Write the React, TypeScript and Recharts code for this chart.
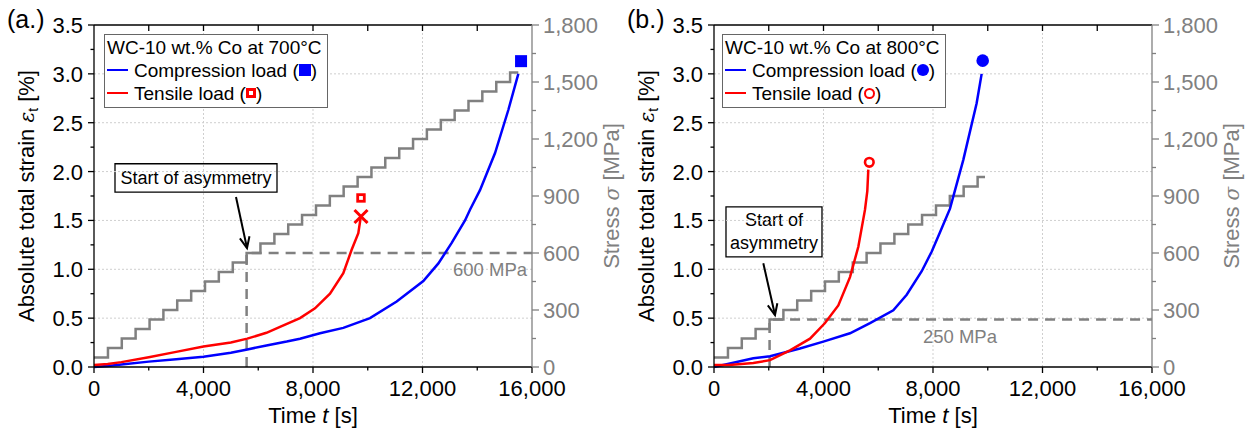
import React from "react";
import {
  ComposedChart,
  Line,
  Scatter,
  XAxis,
  YAxis,
  ReferenceLine,
  ReferenceArea,
  ReferenceDot,
  Legend,
} from "recharts";

const FONT = "Arial, 'Liberation Sans', Helvetica, sans-serif";
const GRAY = "#808080";
const BLUE = "#0000ff";
const RED = "#ff0000";

// axis ticks
const timeTicks = [0, 2000, 4000, 6000, 8000, 10000, 12000, 14000, 16000];
const timeGridTicks = [4000, 8000, 12000];
const strainTicks = [0, 0.25, 0.5, 0.75, 1, 1.25, 1.5, 1.75, 2, 2.25, 2.5, 2.75, 3, 3.25, 3.5];
const strainGridTicks = [0.5, 1, 1.5, 2, 2.5, 3];
const stressTicks = [0, 150, 300, 450, 600, 750, 900, 1050, 1200, 1350, 1500, 1650, 1800];
const strainMax = 3.5;

// (a.) 700 °C
const stepTimeA = [0, 510, 1015, 1520, 2030, 2535, 3040, 3550, 4055, 4560, 5070, 5575, 6080, 6590, 7095, 7600, 8110, 8615, 9120, 9630, 10135, 10640, 11150, 11655, 12160, 12670, 13175, 13680, 14185, 14695, 15200, 15500];
const stepStressA = [50, 100, 150, 200, 250, 300, 350, 400, 450, 500, 550, 600, 650, 700, 750, 800, 850, 900, 950, 1000, 1050, 1100, 1150, 1200, 1250, 1300, 1350, 1400, 1450, 1500, 1550, 1550];
const compTimeA = [0, 500, 1000, 2000, 3000, 4000, 5000, 5600, 6300, 7040, 7525, 8256, 9107, 10082, 11057, 12030, 12580, 13066, 13553, 13735, 14100, 14650, 15135, 15500];
const compStrainA = [0, 0.01, 0.025, 0.055, 0.08, 0.105, 0.145, 0.18, 0.22, 0.26, 0.29, 0.345, 0.4, 0.5, 0.67, 0.88, 1.06, 1.27, 1.5, 1.61, 1.81, 2.19, 2.63, 3.0];
const tensTimeA = [0, 500, 1000, 2000, 3000, 4000, 5000, 5600, 6300, 6795, 7525, 8073, 8621, 9107, 9412, 9655, 9753];
const tensStrainA = [0.02, 0.03, 0.05, 0.1, 0.155, 0.21, 0.25, 0.29, 0.35, 0.41, 0.5, 0.6, 0.75, 0.96, 1.2, 1.37, 1.55];
const compFailA = [15600, 3.13];
const tensFailA = [9753, 1.73];
const tensCrossA = [9753, 1.54];
const onsetTimeA = 5575;
const onsetStressA = 600;

// (b.) 800 °C
const stepTimeB = [0, 510, 1015, 1520, 2030, 2535, 3040, 3550, 4055, 4560, 5070, 5575, 6080, 6590, 7095, 7600, 8110, 8615, 9120, 9630, 9900];
const stepStressB = [50, 100, 150, 200, 250, 300, 350, 400, 450, 500, 550, 600, 650, 700, 750, 800, 850, 900, 950, 1000, 1000];
const compTimeB = [0, 500, 1437, 2046, 3141, 3993, 4968, 5699, 6550, 7039, 7588, 7950, 8256, 8621, 9107, 9594, 9777];
const compStrainB = [0, 0.03, 0.09, 0.11, 0.19, 0.26, 0.345, 0.45, 0.58, 0.74, 0.98, 1.18, 1.38, 1.62, 2.12, 2.7, 3.0];
const tensTimeB = [0, 558, 1437, 2046, 2776, 3507, 4055, 4541, 4968, 5272, 5516, 5600, 5637];
const tensStrainB = [0.02, 0.02, 0.04, 0.07, 0.17, 0.29, 0.45, 0.63, 0.92, 1.23, 1.61, 1.8, 2.02];
const compFailB = [9815, 3.135];
const tensFailB = [5673, 2.095];
const onsetTimeB = 2030;
const onsetStressB = 250;

const zip = (ts: number[], vs: number[]) => ts.map((t, i) => ({ t, v: vs[i] }));

const BottomTick = (p: any) => {
  const v = p.payload.value;
  const major = v % 4000 === 0;
  return (
    <g>
      <line x1={p.x} x2={p.x} y1={p.y} y2={p.y + (major ? 6 : 3.5)} stroke="#000" strokeWidth={1.3} />
      {major && (
        <text x={p.x} y={p.y + 29} textAnchor="middle" fontSize={22} fontFamily={FONT} fill="#000">
          {v.toLocaleString("en-US")}
        </text>
      )}
    </g>
  );
};

const LeftTick = (p: any) => {
  const v = p.payload.value;
  const major = Math.abs(v * 2 - Math.round(v * 2)) < 1e-6;
  return (
    <g>
      <line x1={p.x - (major ? 6 : 3.5)} x2={p.x} y1={p.y} y2={p.y} stroke="#000" strokeWidth={1.3} />
      {major && (
        <text x={p.x - 11} y={p.y + 8} textAnchor="end" fontSize={22} fontFamily={FONT} fill="#000">
          {v.toFixed(1)}
        </text>
      )}
    </g>
  );
};

const RightTick = (p: any) => {
  const v = p.payload.value;
  const major = v % 300 === 0;
  return (
    <g>
      <line x1={p.x} x2={p.x + (major ? 7 : 4)} y1={p.y} y2={p.y} stroke={GRAY} strokeWidth={1.3} />
      {major && (
        <text x={p.x + 11} y={p.y + 8} textAnchor="start" fontSize={22} fontFamily={FONT} fill={GRAY}>
          {v.toLocaleString("en-US")}
        </text>
      )}
    </g>
  );
};

// inward tick marks hanging from the top frame line
const TopTickDot = (p: any) => {
  const t = p.payload.t;
  if (t === 0 || t === 16000) return <g key={p.index} />;
  return <line key={p.index} x1={p.cx} x2={p.cx} y1={p.cy} y2={p.cy + 6} stroke="#000" strokeWidth={1.3} />;
};

const TimeTitle = (p: any) => {
  const vb = p.viewBox;
  return (
    <text x={vb.x + vb.width / 2} y={vb.y + 56} textAnchor="middle" fontSize={22} fontFamily={FONT} fill="#000">
      Time <tspan fontStyle="italic">t</tspan> [s]
    </text>
  );
};

const StrainTitle = (p: any) => {
  const vb = p.viewBox;
  const x = vb.x;
  const y = vb.y + vb.height / 2;
  return (
    <text x={x} y={y} transform={`rotate(-90 ${x} ${y})`} textAnchor="middle" fontSize={22} fontFamily={FONT} fill="#000">
      Absolute total strain <tspan fontStyle="italic" fontFamily="'DejaVu Serif', serif" fontSize={20}>ε</tspan>
      <tspan fontSize={14} dy={4}>t</tspan>
      <tspan dy={-4}> [%]</tspan>
    </text>
  );
};

const StressTitle = (p: any) => {
  const vb = p.viewBox;
  const x = vb.x + 87;
  const y = vb.y + vb.height / 2;
  return (
    <text x={x} y={y} transform={`rotate(-90 ${x} ${y})`} textAnchor="middle" fontSize={22} fontFamily={FONT} fill={GRAY}>
      Stress <tspan fontStyle="italic" fontFamily="'DejaVu Serif', serif" fontSize={20}>σ</tspan> [MPa]
    </text>
  );
};

const ArrowShape = (p: any) => {
  const { x1, y1, x2, y2 } = p;
  const a = Math.atan2(y2 - y1, x2 - x1);
  const L = 12;
  const s = 0.42;
  return (
    <g stroke="#000" strokeWidth={2} fill="none">
      <line x1={x1} y1={y1} x2={x2} y2={y2} />
      <polyline
        points={`${x2 - L * Math.cos(a - s)},${y2 - L * Math.sin(a - s)} ${x2},${y2} ${x2 - L * Math.cos(a + s)},${y2 - L * Math.sin(a + s)}`}
      />
    </g>
  );
};

const boxText = (lines: string[]) => (p: any) => {
  const vb = p.viewBox;
  const cx = vb.x + vb.width / 2;
  const cy = vb.y + vb.height / 2;
  const lh = 23;
  const y0 = cy - ((lines.length - 1) * lh) / 2 + 6;
  return (
    <text x={cx} textAnchor="middle" fontSize={18} fontFamily={FONT} fill="#000">
      {lines.map((l, i) => (
        <tspan key={i} x={cx} y={y0 + i * lh}>
          {l}
        </tspan>
      ))}
    </text>
  );
};

const mpaText = (value: string) => (p: any) => (
  <text x={p.viewBox.x} y={p.viewBox.y + 6} textAnchor="middle" fontSize={18.5} fontFamily={FONT} fill={GRAY}>
    {value}
  </text>
);

const FilledSquare = (p: any) => <rect x={p.cx - 6} y={p.cy - 6} width={12} height={12} fill={BLUE} />;
const OpenSquare = (p: any) => (
  <rect x={p.cx - 3.3} y={p.cy - 3.3} width={6.6} height={6.6} fill="none" stroke={RED} strokeWidth={2.8} />
);
const CrossMark = (p: any) => (
  <g stroke={RED} strokeWidth={3}>
    <line x1={p.cx - 6.5} y1={p.cy - 6.5} x2={p.cx + 6.5} y2={p.cy + 6.5} />
    <line x1={p.cx - 6.5} y1={p.cy + 6.5} x2={p.cx + 6.5} y2={p.cy - 6.5} />
  </g>
);
const FilledCircle = (p: any) => <circle cx={p.cx} cy={p.cy} r={6.3} fill={BLUE} />;
const OpenCircle = (p: any) => <circle cx={p.cx} cy={p.cy} r={4.3} fill="none" stroke={RED} strokeWidth={2.6} />;

const Swatch = ({ color }: { color: string }) => (
  <span style={{ display: "inline-block", width: 21, height: 2, background: color, verticalAlign: "middle", marginRight: 6, marginBottom: 3 }} />
);

const inlineMark = (kind: string) => {
  const base: React.CSSProperties = { display: "inline-block", verticalAlign: "middle", marginBottom: 3, boxSizing: "border-box" };
  if (kind === "fsq") return <span style={{ ...base, width: 12, height: 12, background: BLUE }} />;
  if (kind === "osq") return <span style={{ ...base, width: 10, height: 10, border: `3px solid ${RED}` }} />;
  if (kind === "fci") return <span style={{ ...base, width: 12, height: 12, background: BLUE, borderRadius: "50%" }} />;
  return <span style={{ ...base, width: 11, height: 11, border: `2.6px solid ${RED}`, borderRadius: "50%" }} />;
};

const LegendBox = ({ title, comp, tens }: { title: string; comp: string; tens: string }) => (
  <div
    style={{
      border: "1px solid #666",
      background: "#fff",
      padding: "1px 5px 2px 2px",
      fontFamily: FONT,
      fontSize: 19,
      lineHeight: "23px",
      color: "#000",
      whiteSpace: "nowrap",
      textAlign: "left",
    }}
  >
    <div>{title}</div>
    <div>
      <Swatch color={BLUE} />
      Compression load ({inlineMark(comp)})
    </div>
    <div>
      <Swatch color={RED} />
      Tensile load ({inlineMark(tens)})
    </div>
  </div>
);

interface PanelProps {
  width: number;
  stepT: number[];
  stepS: number[];
  compT: number[];
  compE: number[];
  tensT: number[];
  tensE: number[];
  onsetT: number;
  onsetS: number;
  mpaLabel: string;
  mpaPos: [number, number];
  box: [number, number, number, number];
  boxLines: string[];
  arrow: [number, number, number, number];
  legendTitle: string;
  legendLeft: number;
  compMark: string;
  tensMark: string;
  markers: { pt: number[]; shape: any }[];
}

const Panel: React.FC<PanelProps> = (p) => {
  const onsetLine = [
    { t: p.onsetT, v: 0 },
    { t: p.onsetT, v: p.onsetS },
    { t: 16000, v: p.onsetS },
  ];
  const topFrame = timeTicks.map((t) => ({ t, v: strainMax }));
  return (
    <ComposedChart width={p.width} height={428} margin={{ top: 25, right: p.width - 592, bottom: 31, left: 34 }}>
      <XAxis
        xAxisId="x"
        type="number"
        dataKey="t"
        domain={[0, 16000]}
        ticks={timeTicks}
        interval={0}
        height={30}
        tickSize={0}
        tickMargin={0}
        tickLine={false}
        tick={BottomTick}
        axisLine={{ stroke: "#000", strokeWidth: 1.3 }}
        label={TimeTitle}
      />
      <YAxis
        yAxisId="e"
        type="number"
        domain={[0, strainMax]}
        ticks={strainTicks}
        interval={0}
        width={60}
        tickSize={0}
        tickMargin={0}
        tickLine={false}
        tick={LeftTick}
        axisLine={{ stroke: "#000", strokeWidth: 1.3 }}
        label={StrainTitle}
      />
      <YAxis
        yAxisId="s"
        orientation="right"
        type="number"
        domain={[0, 1800]}
        ticks={stressTicks}
        interval={0}
        width={60}
        tickSize={0}
        tickMargin={0}
        tickLine={false}
        tick={RightTick}
        axisLine={{ stroke: GRAY, strokeWidth: 1.3 }}
        label={StressTitle}
      />
      {timeGridTicks.map((t) => (
        <ReferenceLine key={`gx${t}`} xAxisId="x" yAxisId="e" x={t} stroke="#cfcfcf" strokeDasharray="2 2" strokeWidth={1} />
      ))}
      {strainGridTicks.map((e) => (
        <ReferenceLine key={`gy${e}`} xAxisId="x" yAxisId="e" y={e} stroke="#cfcfcf" strokeDasharray="2 2" strokeWidth={1} />
      ))}
      <Line
        xAxisId="x"
        yAxisId="e"
        data={topFrame}
        dataKey="v"
        type="linear"
        stroke="#000"
        strokeWidth={1.4}
        dot={TopTickDot}
        activeDot={false}
        legendType="none"
        isAnimationActive={false}
      />
      <Line
        xAxisId="x"
        yAxisId="s"
        data={onsetLine}
        dataKey="v"
        type="linear"
        stroke={GRAY}
        strokeWidth={2.5}
        strokeDasharray="10 7"
        dot={false}
        isAnimationActive={false}
      />
      <Line
        xAxisId="x"
        yAxisId="s"
        data={zip(p.stepT, p.stepS)}
        dataKey="v"
        type="stepAfter"
        stroke={GRAY}
        strokeWidth={2.5}
        dot={false}
        isAnimationActive={false}
      />
      <Line
        xAxisId="x"
        yAxisId="e"
        data={zip(p.compT, p.compE)}
        dataKey="v"
        type="linear"
        stroke={BLUE}
        strokeWidth={2.5}
        dot={false}
        isAnimationActive={false}
      />
      <Line
        xAxisId="x"
        yAxisId="e"
        data={zip(p.tensT, p.tensE)}
        dataKey="v"
        type="linear"
        stroke={RED}
        strokeWidth={2.5}
        dot={false}
        isAnimationActive={false}
      />
      {p.markers.map((m, i) => (
        <Scatter
          key={i}
          xAxisId="x"
          yAxisId="e"
          data={[{ t: m.pt[0], v: m.pt[1] }]}
          dataKey="v"
          shape={m.shape}
          isAnimationActive={false}
        />
      ))}
      <ReferenceArea
        xAxisId="x"
        yAxisId="e"
        x1={p.box[0]}
        x2={p.box[1]}
        y1={p.box[2]}
        y2={p.box[3]}
        fill="#fff"
        fillOpacity={1}
        stroke="#000"
        strokeWidth={1.3}
        label={boxText(p.boxLines)}
      />
      <ReferenceLine
        xAxisId="x"
        yAxisId="e"
        segment={[
          { x: p.arrow[0], y: p.arrow[1] },
          { x: p.arrow[2], y: p.arrow[3] },
        ]}
        shape={ArrowShape}
      />
      <ReferenceDot
        xAxisId="x"
        yAxisId="s"
        x={p.mpaPos[0]}
        y={p.mpaPos[1]}
        r={0}
        fill="none"
        stroke="none"
        label={mpaText(p.mpaLabel)}
      />
      <Legend
        layout="vertical"
        align="center"
        verticalAlign="middle"
        wrapperStyle={{ left: p.legendLeft, top: 34, width: "auto" }}
        content={() => <LegendBox title={p.legendTitle} comp={p.compMark} tens={p.tensMark} />}
      />
    </ComposedChart>
  );
};

const letterStyle: React.CSSProperties = {
  position: "absolute",
  top: 7,
  fontFamily: FONT,
  fontSize: 25,
  lineHeight: "25px",
  color: "#000",
};

export default function App() {
  return (
    <div style={{ position: "absolute", left: 0, top: 0, width: 1249, height: 428, background: "#fff", overflow: "hidden" }}>
      <div style={{ position: "absolute", left: 0, top: 0 }}>
        <Panel
          width={628}
          stepT={stepTimeA}
          stepS={stepStressA}
          compT={compTimeA}
          compE={compStrainA}
          tensT={tensTimeA}
          tensE={tensStrainA}
          onsetT={onsetTimeA}
          onsetS={onsetStressA}
          mpaLabel="600 MPa"
          mpaPos={[14466, 510]}
          box={[767, 6685, 1.79, 2.08]}
          boxLines={["Start of asymmetry"]}
          arrow={[5187, 1.74, 5589, 1.218]}
          legendTitle="WC-10 wt.% Co at 700°C"
          legendLeft={104}
          compMark="fsq"
          tensMark="osq"
          markers={[
            { pt: compFailA, shape: FilledSquare },
            { pt: tensFailA, shape: OpenSquare },
            { pt: tensCrossA, shape: CrossMark },
          ]}
        />
      </div>
      <div style={{ position: "absolute", left: 620, top: 0 }}>
        <Panel
          width={629}
          stepT={stepTimeB}
          stepS={stepStressB}
          compT={compTimeB}
          compE={compStrainB}
          tensT={tensTimeB}
          tensE={tensStrainB}
          onsetT={onsetTimeB}
          onsetS={onsetStressB}
          mpaLabel="250 MPa"
          mpaPos={[8986, 158]}
          box={[438, 3945, 1.126, 1.638]}
          boxLines={["Start of", "asymmetry"]}
          arrow={[1801, 1.061, 2228, 0.532]}
          legendTitle="WC-10 wt.% Co at 800°C"
          legendLeft={102}
          compMark="fci"
          tensMark="oci"
          markers={[
            { pt: compFailB, shape: FilledCircle },
            { pt: tensFailB, shape: OpenCircle },
          ]}
        />
      </div>
      <div style={{ ...letterStyle, left: 7 }}>(a.)</div>
      <div style={{ ...letterStyle, left: 627 }}>(b.)</div>
    </div>
  );
}
